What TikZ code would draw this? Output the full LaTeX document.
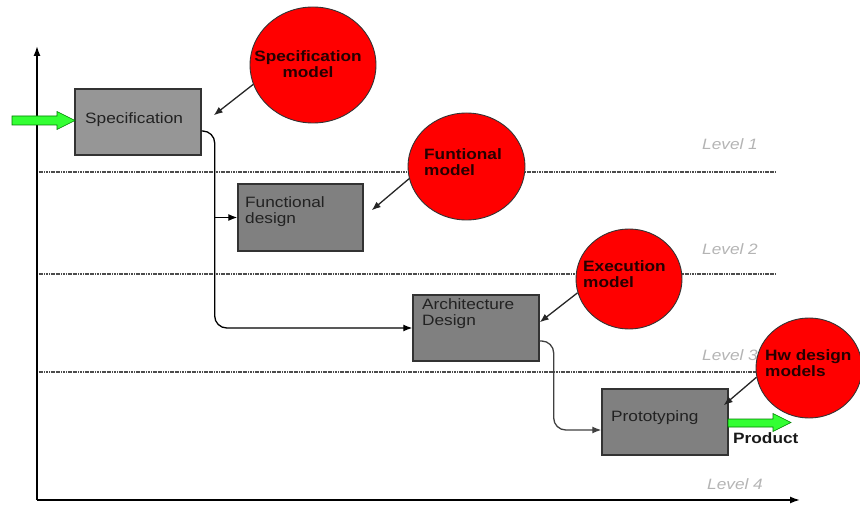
\documentclass[tikz,border=0pt]{standalone}
\usepackage{fontspec}
\setmainfont{Liberation Sans}[FakeStretch=1.15]
\usetikzlibrary{shapes.geometric,arrows.meta}
\definecolor{boxgray}{HTML}{808080}
\definecolor{specgray}{HTML}{969696}
\definecolor{modelred}{HTML}{FF0000}
\definecolor{arrowgreen}{HTML}{33FF33}
\definecolor{levelgray}{HTML}{B4B4B4}
\definecolor{txtdark}{HTML}{222222}
\begin{document}
\begin{tikzpicture}[x=1pt,y=-1pt,
  box/.style={draw=black!80, line width=1.4pt, fill=boxgray, inner sep=0pt},
  boxtxt/.style={inner sep=0pt, align=left, text=txtdark, font=\fontsize{15}{16.5}\selectfont},
  model/.style={ellipse, draw=black!80, line width=0.9pt, fill=modelred, inner sep=0pt},
  modeltxt/.style={inner sep=0pt, text=black!85!red, font=\bfseries\fontsize{15}{16.5}\selectfont},
  leveltxt/.style={anchor=base west, inner sep=0pt, text=levelgray, font=\itshape\fontsize{15}{16}\selectfont},
  level/.style={draw=black!70, line width=1.2pt, dash pattern=on 1.2pt off 0.5pt},
  axis/.style={line width=1.6pt, -{Latex[length=10pt,width=7pt]}},
  flow/.style={line width=1.3pt, rounded corners=12pt, -{Latex[length=9pt,width=7pt]}},
  hint/.style={line width=1.3pt, black!85, -{Latex[length=9pt,width=7pt]}},
  bigarrow/.style={draw=green!50!black, line width=0.6pt, fill=arrowgreen},
]
\useasboundingbox (0,0) rectangle (860,505);

% level separators
\coordinate (l1a) at (37,172); \coordinate (l1b) at (776,172);
\coordinate (l2a) at (37,274); \coordinate (l2b) at (776,274);
\coordinate (l3a) at (37,372); \coordinate (l3b) at (776,372);
\draw[level] (l1a) -- (l1b);
\draw[level] (l2a) -- (l2b);
\draw[level] (l3a) -- (l3b);

\node[leveltxt] (lev1) at (702,150) {Level 1};
\node[leveltxt] (lev2) at (702,255) {Level 2};
\node[leveltxt] (lev3) at (702,360) {Level 3};
\node[leveltxt] (lev4) at (707,489) {Level 4};

% axes
\coordinate (origin) at (37,500);
\coordinate (ytip) at (37,46);
\coordinate (xtip) at (800,500);
\draw[axis] (origin) -- (ytip);
\draw[axis] (origin) -- (xtip);

% boxes
\node[box, fill=specgray, minimum width=126pt, minimum height=66pt] (spec) at (138,122) {};
\node[box, minimum width=125pt, minimum height=67pt] (func) at (300.5,217.5) {};
\node[box, minimum width=126pt, minimum height=66pt] (arch) at (476,328) {};
\node[box, minimum width=126pt, minimum height=66pt] (proto) at (665,422) {};

\node[boxtxt, anchor=base west] (spect) at (85,124) {Specification};
\node[boxtxt, anchor=north west] (funct) at (245,196) {Functional\\design};
\node[boxtxt, anchor=north west] (archt) at (422,298) {Architecture\\Design};
\node[boxtxt, anchor=base west] (protot) at (611,421.5) {Prototyping};

% flow connectors
\coordinate (jn) at ([xshift=13pt,yshift=-9pt]spec.east);
\draw[flow] ([yshift=-9pt]spec.east) -- (jn) |- (arch.west);
\draw[flow, rounded corners=0pt] (jn |- func.west) -- (func.west);
\coordinate (jn2) at ([xshift=14pt,yshift=-13pt]arch.east);
\draw[flow, black!75] ([yshift=-13pt]arch.east) -- (jn2) |- ([yshift=-8pt]proto.west);

% green arrows
\draw[bigarrow] (12,116) -- (57,116) -- (57,111.5) -- (75,120.5) -- (57,129.5) -- (57,125) -- (12,125) -- cycle;
\draw[bigarrow] (728,419) -- (773,419) -- (773,413.5) -- (791,422.5) -- (773,431.5) -- (773,427) -- (728,427) -- cycle;
\node[inner sep=0pt, anchor=base west, text=black!90, font=\bfseries\fontsize{15}{16}\selectfont] (prod) at (733,443) {Product};

% models
\node[model, minimum width=126pt, minimum height=116pt] (specm) at (313,65) {};
\node[model, minimum width=117pt, minimum height=107pt] (funcm) at (466.5,166.5) {};
\node[model, minimum width=106pt, minimum height=100pt] (execm) at (629,279) {};
\node[model, minimum width=106pt, minimum height=100pt] (hwm) at (809,368) {};

\node[modeltxt, align=center, anchor=north] (specmt) at (308,50) {Specification\\model};
\node[modeltxt, align=left, anchor=north west] (funcmt) at (424,148) {Funtional\\model};
\node[modeltxt, align=left, anchor=north west] (execmt) at (583,260) {Execution\\model};
\node[modeltxt, align=left, anchor=north west] (hwmt) at (765,349) {Hw design\\models};

% model hints
\draw[hint] (specm.198) -- ([xshift=12pt,yshift=-27pt]spec.north east);
\draw[hint] (funcm.192) -- ([xshift=8pt,yshift=-27pt]func.north east);
\draw[hint] (execm.195) -- ([yshift=-28pt]arch.north east);
\draw[hint] (hwm.190) -- ([xshift=-5pt,yshift=-17pt]proto.north east);
\end{tikzpicture}
\end{document}
